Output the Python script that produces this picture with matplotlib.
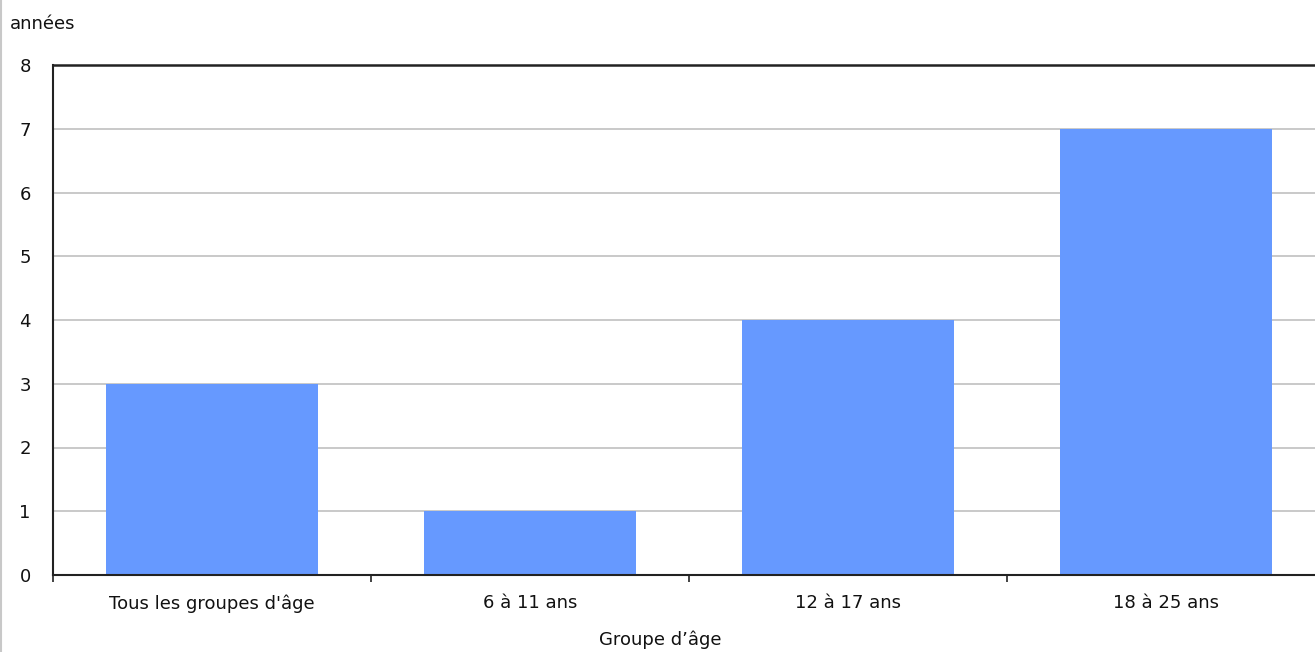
import matplotlib
matplotlib.use("Agg")
import matplotlib.pyplot as plt
from matplotlib.lines import Line2D

plt.rcParams["font.family"] = ["DejaVu Sans"]

categories = ["Tous les groupes d'âge", "6 à 11 ans", "12 à 17 ans", "18 à 25 ans"]
values = [3, 1, 4, 7]
y_ticks = [0, 1, 2, 3, 4, 5, 6, 7, 8]

W, H = 1315, 652
FS = 13
fig = plt.figure(figsize=(W / 100, H / 100), dpi=100)
left_px, right_px, top_px, bottom_px = 53, 1325, 65, 575
ax = fig.add_axes([left_px / W, (H - bottom_px) / H, (right_px - left_px) / W, (bottom_px - top_px) / H])

x = list(range(len(categories)))
ax.bar(x, values, width=2 / 3, color="#6699FF", zorder=2)
ax.set_xlim(-0.5, len(categories) - 0.5)
ax.set_ylim(0, 8)
ax.set_yticks(y_ticks)
ax.yaxis.grid(True, color="#c0c0c0", linewidth=1.2, zorder=0)
ax.set_axisbelow(True)

ax.set_xticks(x)
ax.set_xticklabels(categories, fontsize=FS, color="#111111")
ax.set_xticks([i - 0.5 for i in range(len(categories) + 1)], minor=True)
ax.tick_params(axis="x", which="major", length=0, pad=14)
ax.tick_params(axis="x", which="minor", length=5, width=1.2, direction="out", color="#222222")
ax.tick_params(axis="y", length=0, pad=16, labelsize=FS, labelcolor="#111111")

ax.spines["right"].set_visible(False)
ax.spines["top"].set_linewidth(1.8)
ax.spines["top"].set_color("#222222")
ax.spines["left"].set_linewidth(1.5)
ax.spines["left"].set_color("#222222")
ax.spines["bottom"].set_linewidth(1.5)
ax.spines["bottom"].set_color("#222222")

fig.text(10 / W, 1 - 24 / H, "années", fontsize=FS, color="#111111", va="center", ha="left")
fig.text(660 / W, 1 - 640 / H, "Groupe d’âge", fontsize=FS, color="#111111", va="center", ha="center")

fig.add_artist(Line2D([1 / W, 1 / W], [0, 1], transform=fig.transFigure, color="#c8c8c8", linewidth=1.5))

fig.savefig("out.png", dpi=100)
